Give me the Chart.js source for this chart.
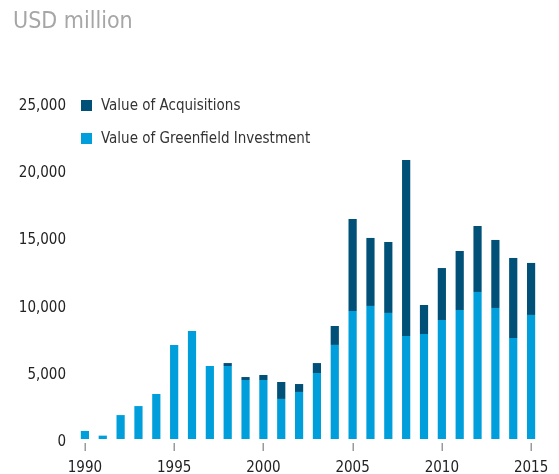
<!DOCTYPE html>
<html>
<head>
<meta charset="utf-8">
<script src="https://cdn.jsdelivr.net/npm/chart.js@4/dist/chart.umd.min.js"></script>
<style>
html,body{margin:0;padding:0;background:#fff;}
#wrap{width:559px;height:474px;position:relative;}
</style>
</head>
<body>
<div id="wrap"><canvas id="c" width="559" height="474"></canvas></div>
<script>
const years = [1990,1991,1992,1993,1994,1995,1996,1997,1998,1999,2000,2001,2002,2003,2004,2005,2006,2007,2008,2009,2010,2011,2012,2013,2014,2015];
const greenfield = [600,250,1780,2450,3350,7000,8040,5430,5430,4390,4390,2980,3500,4910,7000,9520,9900,9380,7660,7810,8850,9600,10940,9750,7510,9230];
const acquisitions = [0,0,0,0,0,0,0,0,220,220,370,1260,590,740,1410,6850,5060,5280,13100,2160,3870,4390,4910,5060,5960,3870];
const yTicks = [0,5000,10000,15000,20000,25000];
const titleText = 'USD million';
const FONT = "'DejaVu Sans Condensed', 'DejaVu Sans', sans-serif";

const overlay = {
  id: 'overlay',
  afterDraw(chart) {
    const ctx = chart.ctx;
    ctx.save();
    // title
    ctx.fillStyle = '#a6a6a6';
    ctx.font = "23px " + FONT;
    ctx.textBaseline = 'alphabetic';
    ctx.textAlign = 'left';
    ctx.fillText(titleText, 13, 28);
    // y tick labels
    const ys = chart.scales.y;
    ctx.fillStyle = '#222';
    ctx.font = "15px " + FONT;
    ctx.textAlign = 'right';
    yTicks.forEach(v => {
      const py = ys.getPixelForValue(v);
      ctx.fillText(v.toLocaleString('en-US'), 66, py + 7);
    });
    // x tick marks
    const xs = chart.scales.x;
    ctx.strokeStyle = '#9a9a9a';
    ctx.lineWidth = 1.5;
    years.forEach((yr, i) => {
      if (yr % 5 === 0) {
        const px = Math.round(xs.getPixelForValue(i)) + 0.25;
        ctx.beginPath();
        ctx.moveTo(px, 443);
        ctx.lineTo(px, 451);
        ctx.stroke();
      }
    });
    // legend
    const ds = chart.data.datasets;
    const order = [1, 0];
    const ly = [105, 138];
    ctx.textAlign = 'left';
    ctx.textBaseline = 'middle';
    ctx.font = "15px " + FONT;
    order.forEach((di, i) => {
      ctx.fillStyle = ds[di].backgroundColor;
      ctx.fillRect(81, ly[i] - 5, 11, 11);
      ctx.fillStyle = '#333';
      ctx.fillText(ds[di].label, 101, ly[i] + 1);
    });
    ctx.restore();
  }
};

new Chart(document.getElementById('c'), {
  type: 'bar',
  data: {
    labels: years,
    datasets: [
      { label: 'Value of Greenfield Investment', data: greenfield, backgroundColor: '#009fdb', barPercentage: 0.46, categoryPercentage: 1 },
      { label: 'Value of Acquisitions', data: acquisitions, backgroundColor: '#005077', barPercentage: 0.46, categoryPercentage: 1 }
    ]
  },
  options: {
    responsive: false,
    animation: false,
    layout: { padding: { top: 103, right: 19, left: 0, bottom: 0 } },
    plugins: { legend: { display: false }, tooltip: { enabled: false } },
    scales: {
      x: {
        stacked: true,
        border: { display: false },
        grid: { display: true, drawOnChartArea: false, drawTicks: false },
        ticks: {
          autoSkip: false,
          maxRotation: 0,
          padding: 20,
          color: '#222',
          font: { family: FONT, size: 15 },
          callback: function(v, i) { return years[i] % 5 === 0 ? String(years[i]) : ''; }
        },
        afterFit(s) { s.height = 35; s.paddingLeft = 0; s.paddingRight = 0; }
      },
      y: {
        stacked: true,
        min: 0,
        max: 25000,
        border: { display: false },
        grid: { display: false },
        afterBuildTicks(s) { s.ticks = yTicks.map(v => ({ value: v })); },
        ticks: { display: false },
        afterFit(s) { s.width = 76; s.paddingTop = 0; s.paddingBottom = 0; }
      }
    }
  },
  plugins: [overlay]
});
</script>
</body>
</html>
